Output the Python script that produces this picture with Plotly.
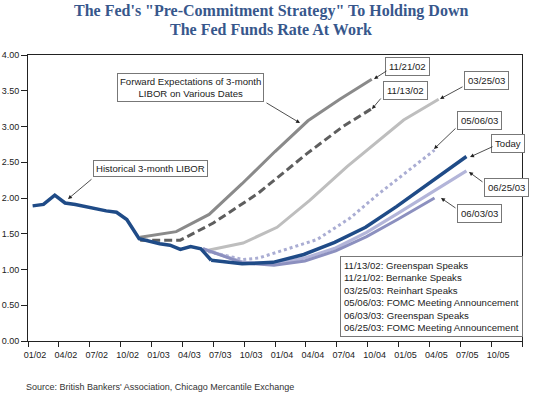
import plotly.graph_objects as go

# x = months since Jan 2002 (0 = start of 01/02)
tick_labels = ["01/02", "04/02", "07/02", "10/02", "01/03", "04/03", "07/03", "10/03",
               "01/04", "04/04", "07/04", "10/04", "01/05", "04/05", "07/05", "10/05"]
y_ticks = [0, 0.5, 1.0, 1.5, 2.0, 2.5, 3.0, 3.5, 4.0]

hist_t = [0.45, 1.5, 2.6, 3.6, 4.6, 5.6, 6.6, 7.6, 8.6, 9.6, 10.8, 11.8, 12.8, 13.8, 14.8, 15.8, 16.8, 17.8]
hist_v = [1.89, 1.91, 2.04, 1.93, 1.91, 1.88, 1.84, 1.82, 1.80, 1.70, 1.43, 1.39, 1.36, 1.34, 1.28, 1.32, 1.29, 1.13]

today_t = [17.8, 20.8, 23.8, 26.8, 29.8, 32.8, 35.8, 38.8, 42.6]
today_v = [1.13, 1.08, 1.10, 1.21, 1.38, 1.59, 1.88, 2.19, 2.58]

f1121_t = [10.9, 14.4, 17.6, 20.8, 24.0, 27.2, 30.3, 33.4]
f1121_v = [1.45, 1.53, 1.77, 2.20, 2.65, 3.08, 3.38, 3.66]

f1113_t = [10.9, 14.8, 18.0, 22.4, 27.1, 30.6, 33.4]
f1113_v = [1.41, 1.41, 1.65, 2.07, 2.62, 3.00, 3.25]

f0325_t = [17.5, 20.9, 24.2, 27.4, 31.0, 34.0, 36.5, 39.9]
f0325_v = [1.27, 1.37, 1.59, 1.97, 2.44, 2.79, 3.09, 3.38]

f0506_t = [17.5, 20.9, 22.4, 24.8, 28.1, 31.3, 34.0, 39.5]
f0506_v = [1.25, 1.14, 1.16, 1.27, 1.42, 1.72, 2.05, 2.67]

f0625_t = [17.0, 20.9, 23.9, 26.9, 29.9, 32.9, 35.9, 38.9, 42.6]
f0625_v = [1.29, 1.10, 1.08, 1.16, 1.30, 1.52, 1.78, 2.05, 2.38]

f0603_t = [17.0, 20.9, 23.9, 26.9, 29.9, 32.9, 35.9, 39.5]
f0603_v = [1.29, 1.09, 1.06, 1.12, 1.26, 1.46, 1.70, 2.00]

notes = ["11/13/02: Greenspan Speaks", "11/21/02: Bernanke Speaks", "03/25/03: Reinhart Speaks",
         "05/06/03: FOMC Meeting Announcement", "06/03/03: Greenspan Speaks",
         "06/25/03: FOMC Meeting Announcement"]

DARK = "#1F4B87"
W, H = 535, 396
L, R, T, B = 28, 13, 55, 55
PW, PH = W - L - R, H - T - B
XMAX, YMAX = 48, 4.0


def dx(px):
    return (px - L) / PW * XMAX


def dy(py):
    return (T + PH - py) / PH * YMAX


def px_(px):
    return (px - L) / PW


def py_(py):
    return (T + PH - py) / PH


fig = go.Figure()

def add_line(t, v, color, width, dash="solid"):
    fig.add_trace(go.Scatter(x=t, y=v, mode="lines", line=dict(color=color, width=width, dash=dash),
                             hoverinfo="skip", showlegend=False))

add_line(f0325_t, f0325_v, "#BEBEBE", 3)
add_line(f1121_t, f1121_v, "#8A8A8A", 3)
add_line(f1113_t, f1113_v, "#5E5E5E", 3, "8px,4px")
add_line(f0506_t, f0506_v, "#AAADD3", 3, "3px,3px")
add_line(f0625_t, f0625_v, "#B3B5D9", 3.2)
add_line(f0603_t, f0603_v, "#8C90BF", 3)
add_line(today_t, today_v, DARK, 3.5)
add_line(hist_t, hist_v, DARK, 3.5)

ann = []
FONT = dict(family="Liberation Sans, Arial, sans-serif", size=9, color="#222")
AFONT = dict(family="Liberation Sans, Arial, sans-serif", size=9.6, color="#222")

# title (two lines)
TITLE_FONT = dict(family="Liberation Serif, Times New Roman, serif", size=16, color="#37578C")
ann.append(dict(xref="paper", yref="paper", x=px_(271), y=py_(11), text="<b>The Fed's \"Pre-Commitment Strategy\" To Holding Down</b>",
                showarrow=False, font=TITLE_FONT, xanchor="center", yanchor="middle"))
ann.append(dict(xref="paper", yref="paper", x=px_(271), y=py_(29), text="<b>The Fed Funds Rate At Work</b>",
                showarrow=False, font=TITLE_FONT, xanchor="center", yanchor="middle"))

# source
ann.append(dict(xref="paper", yref="paper", x=px_(24), y=py_(387), text="Source: British Bankers' Association, Chicago Mercantile Exchange",
                showarrow=False, font=dict(family="Liberation Sans, Arial, sans-serif", size=9, color="#333"),
                xanchor="left", yanchor="middle"))

BOX = dict(bordercolor="#777", borderwidth=1, bgcolor="white", borderpad=3)

def box(text, cx, cy, **kw):
    d = dict(xref="paper", yref="paper", x=px_(cx), y=py_(cy), text=text, showarrow=False,
             font=AFONT, xanchor="center", yanchor="middle")
    d.update(BOX)
    d.update(kw)
    ann.append(d)

def arrow(x0, y0, x1, y1):
    ann.append(dict(xref="x", yref="y", axref="x", ayref="y", x=dx(x1), y=dy(y1), ax=dx(x0), ay=dy(y0),
                    text="", showarrow=True, arrowhead=2, arrowsize=1, arrowwidth=0.8, arrowcolor="#222"))

box("Forward Expectations of 3-month<br>LIBOR on Various Dates", 190.5, 87.5, borderpad=2)
arrow(265, 102, 300, 123)
box("Historical 3-month LIBOR", 150, 168, borderpad=2)
arrow(93, 178, 68, 199)
box("11/21/02", 407, 66)
arrow(388, 70, 374, 79)
box("11/13/02", 405, 90.5)
arrow(382, 97, 372, 109)
box("03/25/03", 486, 80.5)
arrow(464, 86, 440, 99)
box("05/06/03", 479, 121)
arrow(457, 127, 434, 149)
box("Today", 508, 143)
arrow(494, 146, 470, 157)
box("06/25/03", 506, 187.5)
arrow(484, 183, 469, 172)
box("06/03/03", 479, 213)
arrow(457, 209, 441, 198)

ann.append(dict(xref="paper", yref="paper", x=px_(340), y=py_(256), text="<br>".join(notes),
                showarrow=False, font=AFONT, xanchor="left", yanchor="top", align="left",
                bordercolor="#777", borderwidth=1, bgcolor="white", borderpad=3))

fig.update_layout(
    width=W, height=H, margin=dict(l=L, r=R, t=T, b=B, autoexpand=False),
    paper_bgcolor="white", plot_bgcolor="white",
    annotations=ann, showlegend=False,
    font=FONT,
)
fig.update_xaxes(range=[0, XMAX], tickvals=list(range(0, 49, 3)), ticktext=tick_labels + [""],
                 ticks="outside", ticklen=5, tickcolor="#222", tickwidth=1, ticklabelshift=7,
                 showline=True, linecolor="#222", linewidth=1, mirror=True, showgrid=False, zeroline=False,
                 tickfont=FONT, automargin=False)
fig.update_yaxes(range=[0, YMAX], tickvals=y_ticks, tickformat=".2f",
                 ticks="outside", ticklen=6, tickcolor="#222", tickwidth=1,
                 showline=True, linecolor="#222", linewidth=1, mirror=True, showgrid=False, zeroline=False,
                 tickfont=FONT, automargin=False)

fig.write_html("out.html", config={"displayModeBar": False},
               post_script="document.body.style.margin='0';")
